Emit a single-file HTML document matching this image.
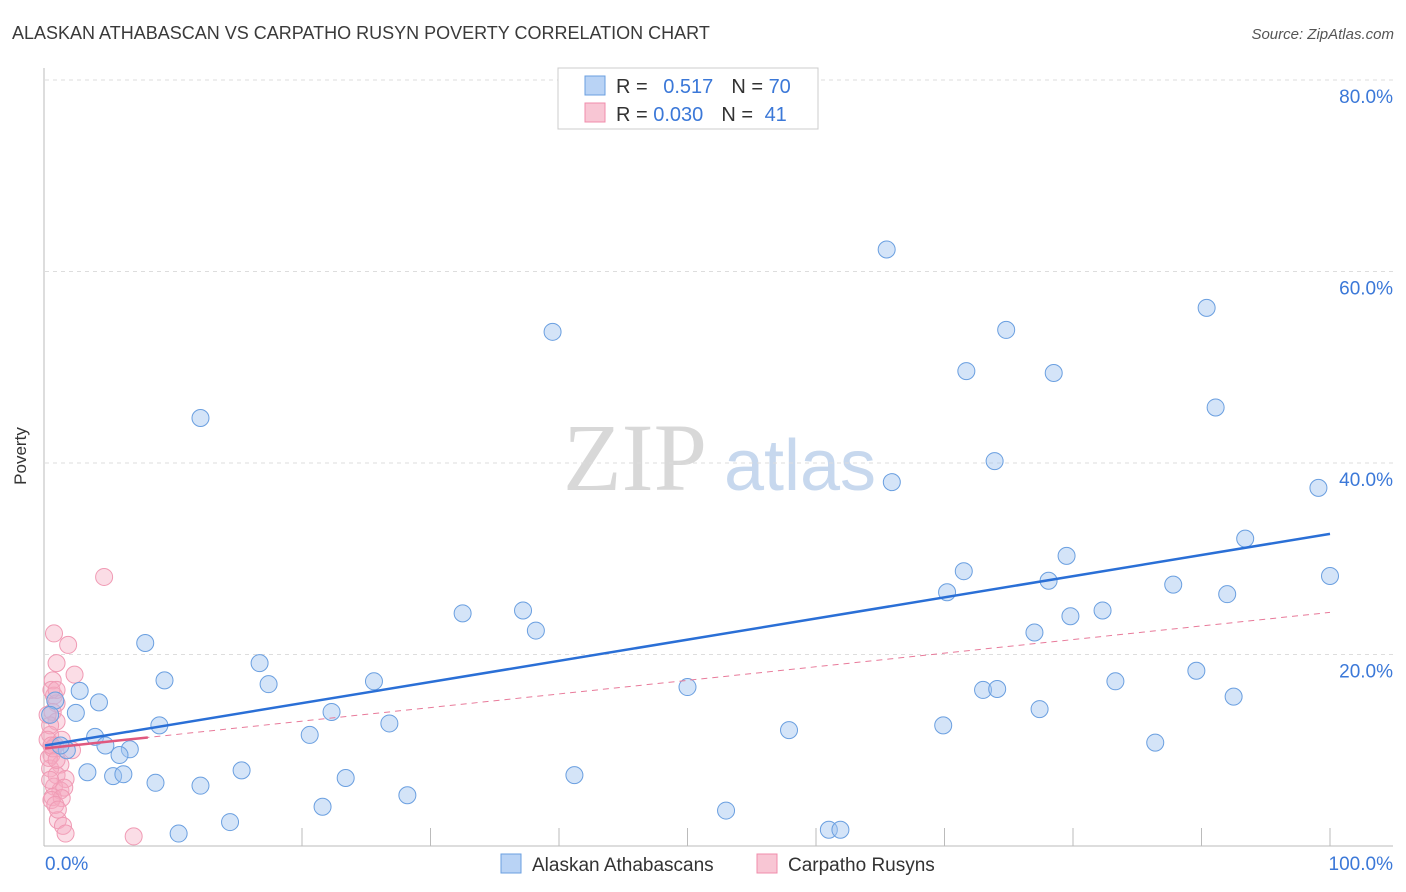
<!DOCTYPE html>
<html><head><meta charset="utf-8">
<style>
body{margin:0;background:#fff;font-family:"Liberation Sans",sans-serif;}
svg{display:block}
</style></head>
<body>
<svg id="chart" width="1406" height="892">
<text x="12" y="39" font-size="18" fill="#3a3a3a">ALASKAN ATHABASCAN VS CARPATHO RUSYN POVERTY CORRELATION CHART</text>
<text x="1394" y="39" font-size="15" fill="#555" font-style="italic" text-anchor="end">Source: ZipAtlas.com</text>
<text x="26" y="456" font-size="17" fill="#333" text-anchor="middle" transform="rotate(-90 26 456)">Poverty</text>
<g>
<text x="635" y="490" font-size="96" fill="#d8d8d8" font-family="Liberation Serif,serif" text-anchor="middle">ZIP</text>
<text x="800" y="490" font-size="72" fill="#c7d8ee" text-anchor="middle">atlas</text>
</g>
<g id="grid"></g>
<g id="marks"></g>
<g>
<rect x="558" y="68" width="260" height="61" fill="#fff" stroke="#ccc"/>
<rect x="585" y="76" width="20" height="19" fill="#b9d3f5" stroke="#6a9fe0"/>
<rect x="585" y="103" width="20" height="19" fill="#f8c6d4" stroke="#f08cab"/>
<text x="616" y="93" font-size="20" fill="#333">R = <tspan fill="#3b78d8" dx="10">0.517</tspan><tspan dx="18" fill="#333">N = </tspan><tspan fill="#3b78d8">70</tspan></text>
<text x="616" y="121" font-size="20" fill="#333">R = <tspan fill="#3b78d8">0.030</tspan><tspan dx="18" fill="#333">N = </tspan><tspan fill="#3b78d8" dx="6">41</tspan></text>
</g>
<g>
<rect x="501" y="854" width="20" height="19" fill="#b9d3f5" stroke="#6a9fe0"/>
<text x="532" y="871" font-size="19" fill="#333">Alaskan Athabascans</text>
<rect x="757" y="854" width="20" height="19" fill="#f8c6d4" stroke="#f08cab"/>
<text x="788" y="871" font-size="19" fill="#333">Carpatho Rusyns</text>
</g>
</svg>
<script>
const yTicks=[20,40,60,80];
const yTickLabels=["20.0%","40.0%","60.0%","80.0%"];
const xTickLabels=["0.0%","100.0%"];
const blueX=[65.5,39.5,12.1,71.7,74.8,78.5,90.4,91.1,73.9,65.9,99.1,93.4,79.5,71.5,78.1,70.2,87.8,92.0,100,32.5,37.2,38.2,82.3,79.8,77.0,7.8,16.7,9.3,17.4,25.6,89.6,83.3,50.0,73.0,74.1,92.5,2.7,4.2,77.4,22.3,2.4,8.9,26.8,69.9,20.6,57.9,3.9,4.7,1.7,86.4,6.6,5.8,3.3,5.3,6.1,15.3,8.6,23.4,41.2,12.1,28.2,21.6,53.0,14.4,61.0,61.9,10.4,0.8,1.2,0.4];
const blueY=[62.3,53.7,44.7,49.6,53.9,49.4,56.2,45.8,40.2,38.0,37.4,32.1,30.3,28.7,27.7,26.5,27.3,26.3,28.2,24.3,24.6,22.5,24.6,24.0,22.3,21.2,19.1,17.3,16.9,17.2,18.3,17.2,16.6,16.3,16.4,15.6,16.2,15.0,14.3,14.0,13.9,12.6,12.8,12.6,11.6,12.1,11.4,10.5,10.0,10.8,10.1,9.5,7.7,7.3,7.5,7.9,6.6,7.1,7.4,6.3,5.3,4.1,3.7,2.5,1.7,1.7,1.3,15.2,10.5,13.7];
const pinkX=[4.6,0.7,1.8,0.9,2.3,0.6,0.7,0.9,0.6,0.9,0.4,0.8,2.1,0.5,1.2,0.4,0.9,1.6,0.7,1.2,1.5,0.6,1.3,1.0,1.4,1.6,6.9,0.4,0.2,0.3,0.5,0.8,0.5,0.6,1.3,1.0,0.2,0.4,0.9,0.5,0.9];
const pinkY=[28.1,22.2,21.0,19.1,17.9,17.3,15.7,14.9,14.0,13.0,11.6,10.5,10.0,9.5,8.5,8.1,7.4,7.0,6.2,5.8,6.1,5.1,5.0,2.7,2.1,1.3,1.0,12.6,11.1,9.2,4.8,4.3,16.3,10.2,11.1,3.8,13.7,6.9,16.3,10.5,9.0];
const blueTrend=[10.5,32.6];
const pinkTrend=[10.2,24.4];
const NS='http://www.w3.org/2000/svg';
const X=v=>45+v*12.85, Y=v=>846-v*9.575;
function mk(t,a,p){const e=document.createElementNS(NS,t);for(const k in a)e.setAttribute(k,a[k]);p.appendChild(e);return e;}
const grid=document.getElementById('grid'),marks=document.getElementById('marks');
let ax=mk('line',{x1:44,y1:68,x2:44,y2:846,stroke:'#bbb'},grid);


let bx=mk('line',{x1:44,y1:846,x2:1393,y2:846,stroke:'#bbb'},grid);


yTicks.forEach((t,i)=>{
 const g=mk('line',{x1:45,x2:1393,y1:Y(t),y2:Y(t),stroke:'#ddd','stroke-dasharray':'4,4'},grid);
 
 
 const l=mk('text',{x:1393,y:Y(t)+23,'font-size':19,fill:'#3b78d8','text-anchor':'end'},grid);l.textContent=yTickLabels[i];
 
 
});
for(let i=2;i<=10;i++){const x=45+i*128.5;const t=mk('line',{x1:x,x2:x,y1:828,y2:846,stroke:'#bbb'},grid);
 
 }
[[X(0),'start'],[X(100)+63,'end']].forEach((p,i)=>{const l=mk('text',{x:p[0],y:870,'font-size':19,fill:'#3b78d8','text-anchor':p[1]},grid);l.textContent=xTickLabels[i];
 
 });
pinkX.forEach((v,i)=>{const c=mk('circle',{cx:X(v),cy:Y(pinkY[i]),r:8.5,fill:'rgba(246,170,192,0.4)',stroke:'#f09ab4','stroke-width':1},marks);
 
 });
blueX.forEach((v,i)=>{const c=mk('circle',{cx:X(v),cy:Y(blueY[i]),r:8.5,fill:'rgba(160,196,240,0.45)',stroke:'#6a9fe0','stroke-width':1},marks);
 
 });
const pd=mk('line',{x1:X(0),y1:Y(pinkTrend[0]),x2:X(100),y2:Y(pinkTrend[1]),stroke:'#e87a9a','stroke-width':1,'stroke-dasharray':'6,5'},marks);


const ps=mk('line',{x1:X(0),y1:Y(pinkTrend[0]),x2:X(8),y2:Y(pinkTrend[0]+(pinkTrend[1]-pinkTrend[0])*0.08),stroke:'#e0587f','stroke-width':2.5},marks);


const bl=mk('line',{x1:X(0),y1:Y(blueTrend[0]),x2:X(100),y2:Y(blueTrend[1]),stroke:'#2a6fd6','stroke-width':2.5},marks);


</script>
</body></html>
